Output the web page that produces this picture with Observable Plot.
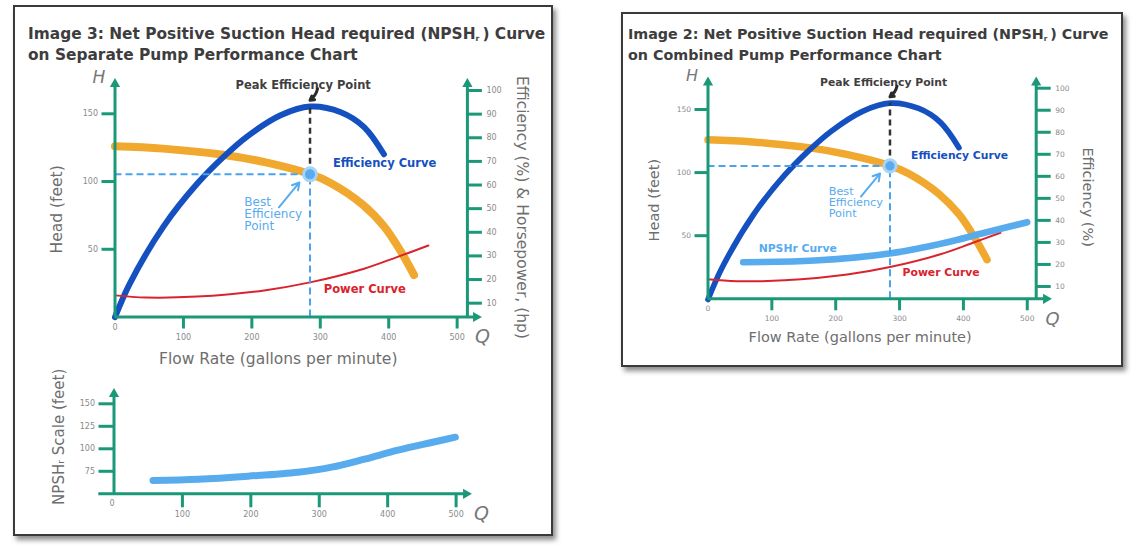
<!DOCTYPE html>
<html><head><meta charset="utf-8">
<script src="https://cdn.jsdelivr.net/npm/d3@7"></script>
<script src="https://cdn.jsdelivr.net/npm/@observablehq/plot@0.6"></script>
<style>
html,body{margin:0;padding:0;background:#fff;}
#page{position:relative;width:1140px;height:550px;overflow:hidden;background:#fff;font-family:"DejaVu Sans",Verdana,sans-serif;}
.box{position:absolute;border:2px solid #3a3a3a;box-shadow:3px 4px 5px rgba(0,0,0,0.45);background:#fff;box-sizing:border-box;}
.title{position:absolute;font-weight:bold;color:#3d3d3d;white-space:nowrap;}
.title sub{font-size:0.5em;line-height:0;vertical-align:-0.25em;}
.chart{position:absolute;}
</style></head>
<body><div id="page">
<div class="box" style="left:13px;top:5px;width:540px;height:531px"></div>
<div class="box" style="left:621px;top:12px;width:502px;height:355px"></div>
<div class="title" style="left:28px;top:24px;font-size:15.4px;line-height:21px">Image 3: Net Positive Suction Head required (NPSH<sub>r</sub>&thinsp;) Curve<br>on Separate Pump Performance Chart</div>
<div class="title" style="left:628px;top:24px;font-size:14.3px;line-height:20.7px">Image 2: Net Positive Suction Head required (NPSH<sub>r</sub>&thinsp;) Curve<br>on Combined Pump Performance Chart</div>
<div id="leftMain" class="chart" style="left:20px;top:60px"></div>
<div id="leftNpsh" class="chart" style="left:20px;top:360px"></div>
<div id="rightMain" class="chart" style="left:625px;top:62px"></div>
</div>
<script>
// ---------------- data ----------------
const flowTicks = [100, 200, 300, 400, 500];
const headTicks = [50, 100, 150];
const effTicks = [10, 20, 30, 40, 50, 60, 70, 80, 90, 100];
const npshTicks = [75, 100, 125, 150];

const headQ  = [0, 70, 160, 217, 285, 315, 362, 393, 417, 437];
const headFt = [126, 124.3, 119.6, 114.5, 105.5, 99, 83, 67, 49, 31];

const effQ   = [0, 22, 71, 120, 159, 193, 242, 285, 330, 364, 393];
const effPct = [4.1, 18.5, 42.5, 60.5, 72, 80.5, 89.5, 93.2, 90.8, 84.5, 73];

const powerQ  = [0, 45, 120, 218, 285, 364, 412, 458];
const powerHp = [13.3, 12.4, 12.8, 15.4, 18.8, 24.6, 29.5, 34.4];

const npshQ  = [57, 123, 196, 269, 318, 366, 415, 464, 499];
const npshFt = [64.8, 66.2, 69.6, 74, 79.6, 88.5, 98.5, 107, 112.9];

const npshCombQ  = [55, 167, 287, 375, 427, 500];
const npshCombFt = [29, 30.3, 36.1, 44.8, 51.5, 60.7];

const bepQ = 285, bepHead = 105.3, bepEff = 93.2;

// ---------------- tables ----------------
const headData = headQ.map((q, i) => ({q, h: headFt[i]}));
const effData = effQ.map((q, i) => ({q, v: effPct[i]}));
const powerData = powerQ.map((q, i) => ({q, hp: powerHp[i]}));
const npshData = npshQ.map((q, i) => ({q, n: npshFt[i]}));
const npshCombData = npshCombQ.map((q, i) => ({q, h: npshCombFt[i]}));
const bep = [{q: bepQ, h: bepHead, eff: bepEff}];

// ---------------- styles ----------------
const C = {teal: "#1a9878", orange: "#f0a82e", blue: "#1550c0", red: "#d9232e",
  light: "#58acee", dash: "#4aa2ec", text: "#6e6e6e", tick: "#8a8a8a", dark: "#3f3f3f"};
const FONT = "DejaVu Sans, Verdana, sans-serif";
const CURVE = "catmull-rom";

// annotation anchors (data units)
const notes = {
  peak: {q: 275, h: 171}, peakArrow: {q1: 296, h1: 168.5, q2: 285, h2: 160},
  effLabel: {q: 394, h: 113.5}, best: {q: 189, h: 76},
  bestArrow: {q1: 239.5, h1: 81, q2: 269.5, h2: 99.3},
  power: {q: 365, h: 20.5}, npshLabel: {q: 140.5, h: 39.6}
};

function makeMain(cfg) {
  const pxPerH = (cfg.yBottom - cfg.yTop) / 150;
  const pxPerQ = (cfg.xRight - cfg.xZero) / cfg.qMax;
  const hOfPx = px => (cfg.yBottom - px) / pxPerH;
  const qOfPx = px => (px - cfg.xZero) / pxPerQ;
  const effPx = v => cfg.effZero + (cfg.eff100 - cfg.effZero) * v / 100;
  const toH = v => hOfPx(effPx(v));
  const fromH = h => ((cfg.yBottom - h * pxPerH) - cfg.effZero) / (cfg.eff100 - cfg.effZero) * 100;

  const topH = hOfPx(cfg.arrowTop + 5.5);
  const rightQ = qOfPx(cfg.arrowRight - 5.5);
  const arrows = [{q: 0, h: topH, r: 0}, {q: cfg.qMax, h: topH, r: 0}, {q: rightQ, h: 0, r: 90}];

  const s = cfg.scale;
  const marks = [
    Plot.line(headData, {x: "q", y: "h", stroke: C.orange, strokeWidth: 8 * s, curve: CURVE, strokeLinecap: "round"}),
    Plot.line(effData, {x: "q", y: d => toH(d.v), stroke: C.blue, strokeWidth: 6 * s, curve: CURVE, strokeLinecap: "round"}),
    Plot.line(powerData, {x: "q", y: d => toH(d.hp), stroke: C.red, strokeWidth: 2, curve: CURVE})
  ];
  if (cfg.combined) {
    marks.push(Plot.line(npshCombData, {x: "q", y: "h", stroke: C.light, strokeWidth: 7 * s, curve: CURVE, strokeLinecap: "round"}));
    marks.push(Plot.text([notes.npshLabel], {x: "q", y: "h", text: () => "NPSHr Curve", fill: C.light, fontWeight: "bold", fontSize: 11.5 * s, fontFamily: FONT}));
  }
  marks.push(
    // dashed guides
    Plot.ruleY(bep, {y: "h", x1: 0, x2: "q", stroke: C.dash, strokeWidth: 2, strokeDasharray: "7,4"}),
    Plot.ruleX(bep, {x: "q", y1: 0, y2: "h", stroke: C.dash, strokeWidth: 2, strokeDasharray: "7,4"}),
    Plot.ruleX(bep, {x: "q", y1: "h", y2: d => toH(d.eff), stroke: "#333", strokeWidth: 2.5, strokeDasharray: "6,4"}),
    Plot.dot(bep, {x: "q", y: "h", r: 6.5 * s, fill: C.light, stroke: "#a9d3f5", strokeWidth: 3}),
    // axes lines + arrowheads
    Plot.ruleX([0], {y1: 0, y2: topH, stroke: C.teal, strokeWidth: 3}),
    Plot.ruleX([cfg.qMax], {y1: 0, y2: topH, stroke: C.teal, strokeWidth: 3}),
    Plot.ruleY([0], {x1: 0, x2: rightQ, stroke: C.teal, strokeWidth: 3}),
    Plot.dot(arrows, {x: "q", y: "h", rotate: "r", symbol: "triangle", r: 3.8, fill: C.teal, stroke: "none"}),
    // ticks
    Plot.axisY({ticks: headTicks, tickSize: 13, strokeWidth: 3, stroke: C.teal, fill: C.tick, fontSize: 8 * s, tickPadding: 4, label: null, fontFamily: FONT}),
    Plot.axisY({anchor: "right", ticks: effTicks.map(toH), tickFormat: h => Math.round(fromH(h)), tickSize: 14, strokeWidth: 3, stroke: C.teal, fill: C.tick, fontSize: 8 * s, tickPadding: 5, label: null, fontFamily: FONT}),
    Plot.axisX({ticks: flowTicks, tickSize: 12, strokeWidth: 3, stroke: C.teal, fill: C.tick, fontSize: 8 * s, tickPadding: 5, label: null, fontFamily: FONT}),
    Plot.text(["0"], {x: 0, y: 0, dy: 10, fill: C.tick, fontSize: 8 * s, fontFamily: FONT}),
    // axis titles
    Plot.text(["H"], {x: 0, y: hOfPx(cfg.arrowTop - 1), dx: -16, fill: "#777", fontSize: 17 * s, fontStyle: "italic", fontFamily: FONT}),
    Plot.text(["Q"], {x: qOfPx(cfg.arrowRight), y: 0, dx: 1, dy: 20, fill: "#777", fontSize: 19 * s, fontStyle: "italic", fontFamily: FONT}),
    Plot.text(["Head (feet)"], {frameAnchor: "left", textAnchor: "middle", lineAnchor: "middle", dx: cfg.headLabel[0], dy: cfg.headLabel[1], rotate: -90, fill: C.text, fontSize: cfg.labelSize, fontFamily: FONT}),
    Plot.text([cfg.rightLabel], {frameAnchor: "right", textAnchor: "middle", lineAnchor: "middle", dx: cfg.rightLabelPos[0], dy: cfg.rightLabelPos[1], rotate: 90, fill: C.text, fontSize: cfg.labelSize, fontFamily: FONT}),
    Plot.text(["Flow Rate (gallons per minute)"], {frameAnchor: "bottom", textAnchor: "middle", lineAnchor: "middle", dx: cfg.flowLabel[0], dy: cfg.flowLabel[1], fill: C.text, fontSize: cfg.labelSize, fontFamily: FONT}),
    // annotations
    Plot.text([notes.peak], {x: "q", y: "h", text: () => "Peak Efficiency Point", fill: C.dark, fontWeight: "bold", fontSize: 11.5 * s, fontFamily: FONT}),
    Plot.arrow([notes.peakArrow], {x1: "q1", y1: "h1", x2: "q2", y2: "h2", stroke: "#2a2a2a", strokeWidth: 3, headLength: 5, bend: 20}),
    Plot.text([notes.effLabel], {x: "q", y: "h", text: () => "Efficiency Curve", fill: C.blue, fontWeight: "bold", fontSize: 11.5 * s, fontFamily: FONT}),
    Plot.text([notes.best], {x: "q", y: "h", text: () => "Best\nEfficiency\nPoint", textAnchor: "start", lineHeight: 0.98, fill: C.light, fontSize: 12 * s, fontFamily: FONT}),
    Plot.arrow([notes.bestArrow], {x1: "q1", y1: "h1", x2: "q2", y2: "h2", stroke: C.light, strokeWidth: 2, headLength: 6}),
    Plot.text([notes.power], {x: "q", y: "h", text: () => "Power Curve", fill: C.red, fontWeight: "bold", fontSize: 11.5 * s, fontFamily: FONT})
  );

  const p = cfg.place;
  return Plot.plot({
    width: p.w, height: p.h,
    marginLeft: cfg.xZero - p.left, marginRight: p.left + p.w - cfg.xRight,
    marginTop: cfg.yTop - p.top, marginBottom: p.top + p.h - cfg.yBottom,
    x: {domain: [0, cfg.qMax]}, y: {domain: [0, 150]},
    style: {background: "transparent", overflow: "visible"},
    marks
  });
}

function makeNpsh(cfg) {
  const pxPerN = (cfg.yBottom - cfg.yTop) / 100;
  const pxPerQ = (cfg.xRight - cfg.xZero) / 500;
  const nOfPx = px => 50 + (cfg.yBottom - px) / pxPerN;
  const qOfPx = px => (px - cfg.xZero) / pxPerQ;
  const topN = nOfPx(cfg.arrowTop + 5.5);
  const rightQ = qOfPx(cfg.arrowRight - 5.5);
  const arrows = [{q: 0, n: topN, r: 0}, {q: rightQ, n: 50, r: 90}];
  const p = cfg.place;
  return Plot.plot({
    width: p.w, height: p.h,
    marginLeft: cfg.xZero - p.left, marginRight: p.left + p.w - cfg.xRight,
    marginTop: cfg.yTop - p.top, marginBottom: p.top + p.h - cfg.yBottom,
    x: {domain: [0, 500]}, y: {domain: [50, 150]},
    style: {background: "transparent", overflow: "visible"},
    marks: [
      Plot.line(npshData, {x: "q", y: "n", stroke: C.light, strokeWidth: 7, curve: CURVE, strokeLinecap: "round"}),
      Plot.ruleX([0], {y1: 50, y2: topN, stroke: C.teal, strokeWidth: 3}),
      Plot.ruleY([50], {x1: qOfPx(cfg.axisLeft), x2: rightQ, stroke: C.teal, strokeWidth: 3}),
      Plot.dot(arrows, {x: "q", y: "n", rotate: "r", symbol: "triangle", r: 3.8, fill: C.teal, stroke: "none"}),
      Plot.axisY({ticks: npshTicks, tickSize: 15, strokeWidth: 3, stroke: C.teal, fill: C.tick, fontSize: 8, tickPadding: 4, label: null, fontFamily: FONT}),
      Plot.axisX({ticks: flowTicks, tickSize: 14, strokeWidth: 3, stroke: C.teal, fill: C.tick, fontSize: 8, tickPadding: 4, label: null, fontFamily: FONT}),
      Plot.text(["0"], {x: 0, y: 50, dy: 9.5, dx: -2, fill: C.tick, fontSize: 8, fontFamily: FONT}),
      Plot.text(["Q"], {x: qOfPx(cfg.arrowRight), y: 50, dx: 10, dy: 20, fill: "#777", fontSize: 19, fontStyle: "italic", fontFamily: FONT}),
      Plot.text(["NPSH\u1D63 Scale (feet)"], {frameAnchor: "left", textAnchor: "middle", lineAnchor: "middle", dx: -55, dy: -12, rotate: -90, fill: C.text, fontSize: 15, fontFamily: FONT})
    ]
  });
}

document.getElementById("leftMain").append(makeMain({
  place: {left: 20, top: 60, w: 530, h: 320},
  xZero: 114.5, xRight: 466.9, qMax: 515, yTop: 113.3, yBottom: 316.5,
  effZero: 326.3, eff100: 90, arrowTop: 78, arrowRight: 481, scale: 1,
  labelSize: 15.5, headLabel: [-58, -6], flowLabel: [-13, 42],
  rightLabel: "Efficiency (%) & Horsepower, (hp)", rightLabelPos: [55, -8], combined: false
}));
document.getElementById("leftNpsh").append(makeNpsh({
  place: {left: 20, top: 360, w: 530, h: 170},
  xZero: 113.5, xRight: 455.6, yTop: 403.3, yBottom: 493.3,
  arrowTop: 388, arrowRight: 471, axisLeft: 98.3
}));
document.getElementById("rightMain").append(makeMain({
  place: {left: 625, top: 62, w: 495, h: 300},
  xZero: 707.5, xRight: 1035.7, qMax: 514, yTop: 109, yBottom: 298.3,
  effZero: 308, eff100: 87.7, arrowTop: 76.5, arrowRight: 1051, scale: 0.94,
  labelSize: 14.5, headLabel: [-54, -4], flowLabel: [-12, 38.5],
  rightLabel: "Efficiency (%)", rightLabelPos: [51, -7], combined: true
}));
</script>
</body></html>
